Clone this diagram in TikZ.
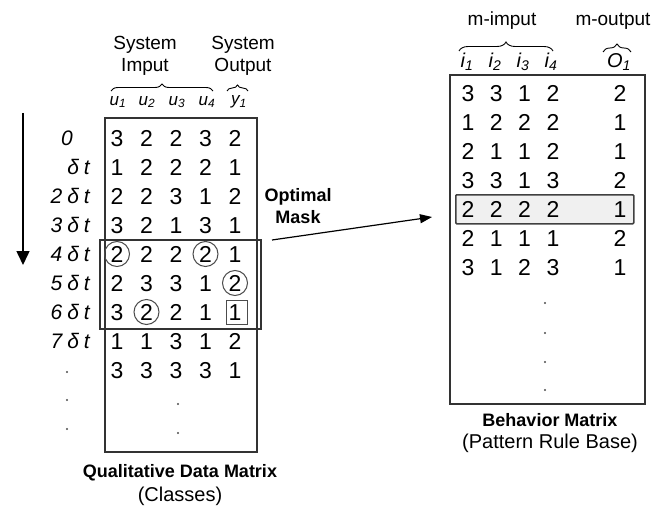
\documentclass[tikz,border=0pt]{standalone}
\usepackage{fontspec}
\setmainfont{Liberation Sans}
\usetikzlibrary{arrows.meta,decorations.pathreplacing}
\begin{document}
\begin{tikzpicture}[x=1pt,y=-1pt,
  dig/.style={inner sep=0pt,anchor=base,font=\fontsize{23}{23}\selectfont},
  rl/.style={inner sep=0pt,font=\fontsize{21}{21}\selectfont\itshape,anchor=base east},
  hdr/.style={inner sep=0pt,font=\fontsize{17}{17}\selectfont\itshape},
  ihdr/.style={inner sep=0pt,font=\fontsize{20}{20}\selectfont\itshape},
  box/.style={draw=black!80,line width=1.6pt,inner sep=0pt},
  ring/.style={draw=black!70,line width=1pt,circle,minimum size=25pt,inner sep=0pt},
  br/.style={decorate,decoration={brace,amplitude=#1},line width=0.9pt},
  ttl/.style={font=\fontsize{19}{22}\selectfont,align=center,inner sep=0pt},
  bttl/.style={font=\fontsize{18}{22}\selectfont\bfseries,align=center,inner sep=0pt},
  dotm/.style={circle,fill=black!70,inner sep=0pt,minimum size=2.4pt}
]
\useasboundingbox (0,0) rectangle (655,508);

% ---------- left matrix ----------
\node[box,minimum width=152pt,minimum height=334pt,anchor=north west] (lbox) at (104,117) {};
\node[box,line width=1.5pt,minimum width=161pt,minimum height=89pt,anchor=north west] (mask) at (99,239) {};

\foreach \row [count=\r] in {{3,2,2,3,2},{1,2,2,2,1},{2,2,3,1,2},{3,2,1,3,1},{2,2,2,2,1},{2,3,3,1,2},{3,2,2,1,1},{1,1,3,1,2},{3,3,3,3,1}}{
  \foreach \v [count=\c] in \row {
    \node[dig] (L\r-\c) at ({117+(\c-1)*29.5},{146.2+(\r-1)*29}) {\v};
  }
}
\coordinate (k1) at (117,254);
\coordinate (k2) at (205.5,254);
\coordinate (k3) at (235,283);
\coordinate (k4) at (146.5,312);
\node[ring] (c1) at (k1) {};
\node[ring] (c2) at (k2) {};
\node[ring] (c3) at (k3) {};
\node[ring] (c4) at (k4) {};
\node[draw=black!70,line width=1pt,minimum width=21pt,minimum height=24pt,inner sep=0pt] (sq) at (237,312) {};

\node[dotm] (cd1) at (178,404) {};
\node[dotm] (cd2) at (178,433) {};

% row labels
\node[inner sep=0pt,anchor=base,font=\fontsize{21}{21}\selectfont\itshape] (r1) at (67,145.5) {0};
\node[rl] (r2) at (90,174.5) {δ\kern5pt t};
\node[rl] (r3) at (90,203.5) {2\kern5pt δ\kern5pt t};
\node[rl] (r4) at (90,232.5) {3\kern5pt δ\kern5pt t};
\node[rl] (r5) at (90,261.5) {4\kern5pt δ\kern5pt t};
\node[rl] (r6) at (90,290.5) {5\kern5pt δ\kern5pt t};
\node[rl] (r7) at (90,319.5) {6\kern5pt δ\kern5pt t};
\node[rl] (r8) at (90,348.5) {7\kern5pt δ\kern5pt t};
\node[dotm] (ld1) at (67,372) {};
\node[dotm] (ld2) at (67,400) {};
\node[dotm] (ld3) at (67,429) {};

% time arrow
\coordinate (t0) at (23,113);
\coordinate (t1) at (23,265);
\draw[line width=1.5pt,-{Triangle[length=14pt,width=13pt]}] (t0) -- (t1);

% headers
\node[hdr] (u1) at (118,102) {u\textsubscript{1}};
\node[hdr] (u2) at (147,102) {u\textsubscript{2}};
\node[hdr] (u3) at (177,102) {u\textsubscript{3}};
\node[hdr] (u4) at (207,102) {u\textsubscript{4}};
\node[hdr] (y1) at (239,102) {y\textsubscript{1}};
\draw[br=7] (111,91) -- (213,91);
\draw[br=6] (227,91) -- (248,91);
\node[ttl] (si) at (145,56) {System\\Imput};
\node[ttl] (so) at (243,56) {System\\Output};

\node[bttl] (qd) at (180,473) {Qualitative Data Matrix};
\node[ttl,font=\fontsize{20}{22}\selectfont] (cl) at (180,496) {(Classes)};

% ---------- arrow ----------
\node[bttl] (om) at (298,206) {Optimal\\Mask};
\coordinate (as) at (272,240);
\coordinate (ae) at (432,217);
\draw[line width=1.2pt,-{Triangle[length=12pt,width=9pt]}] (as) -- (ae);

% ---------- right matrix ----------
\node[box,minimum width=195pt,minimum height=329pt,anchor=north west] (rbox) at (449,74) {};
\node[draw=black!75,fill=black!6,line width=1.6pt,minimum width=178pt,minimum height=29pt,anchor=north west,inner sep=0pt,rounded corners=1pt] (hl) at (455,194) {};

\foreach \row [count=\r] in {{3,3,1,2,2},{1,2,2,2,1},{2,1,1,2,1},{3,3,1,3,2},{2,2,2,2,1},{2,1,1,1,2},{3,1,2,3,1}}{
  \foreach \v [count=\c] in \row {
    \pgfmathsetmacro\xx{\c<5 ? 468+(\c-1)*28.3 : 620}
    \node[dig] (R\r-\c) at (\xx,{101.2+(\r-1)*29}) {\v};
  }
}
\node[dotm] (rd1) at (545,303) {};
\node[dotm] (rd2) at (545,333) {};
\node[dotm] (rd3) at (545,362) {};
\node[dotm] (rd4) at (545,390) {};

\node[ihdr] (i1) at (467,62) {i\textsubscript{1}};
\node[ihdr] (i2) at (495,62) {i\textsubscript{2}};
\node[ihdr] (i3) at (523,62) {i\textsubscript{3}};
\node[ihdr] (i4) at (551,62) {i\textsubscript{4}};
\node[ihdr] (o1) at (619,62) {O\textsubscript{1}};
\draw[br=9] (459,51) -- (553,51);
\draw[br=8] (603,52) -- (631,52);
\node[ttl] (mi) at (502,21) {m-imput};
\node[ttl] (mo) at (613,21) {m-output};

\node[bttl] (bm) at (550,420) {Behavior Matrix};
\node[ttl,font=\fontsize{20}{22}\selectfont] (pr) at (550,443) {(Pattern Rule Base)};
\end{tikzpicture}
\end{document}
